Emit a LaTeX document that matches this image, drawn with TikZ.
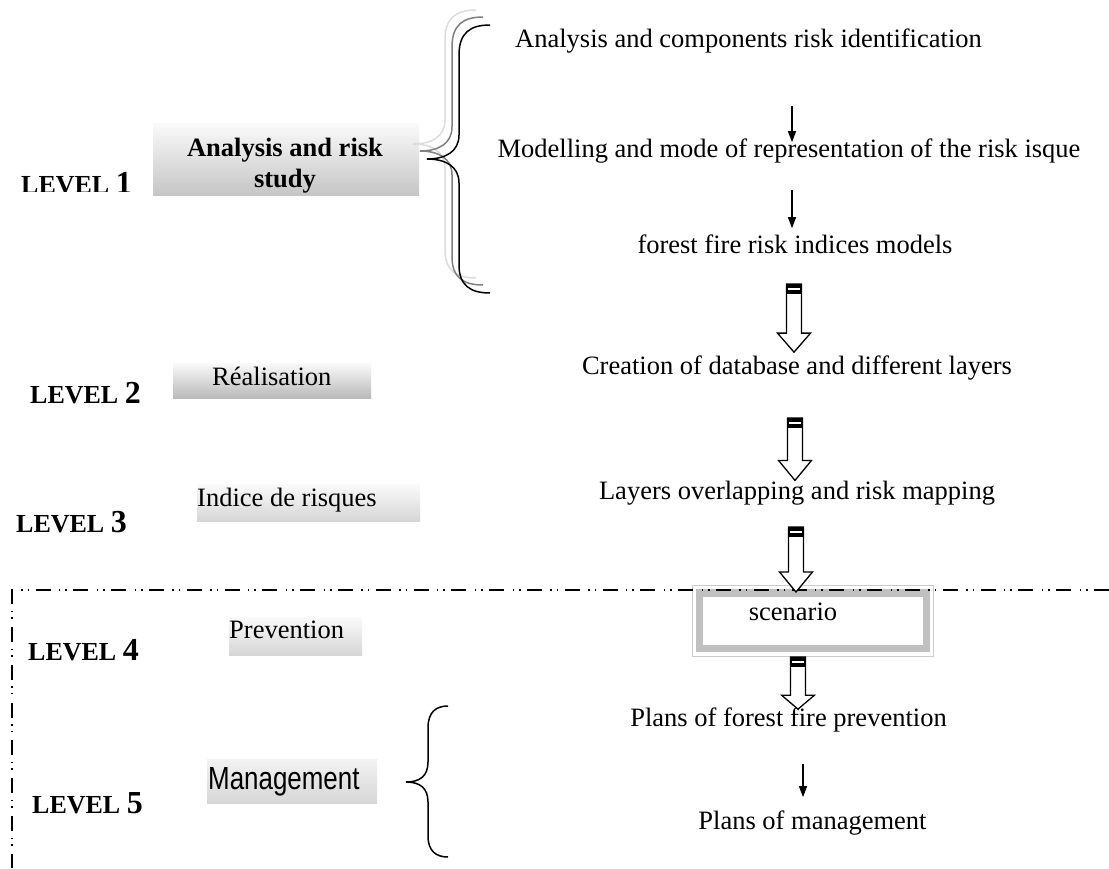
\documentclass[tikz,border=0pt]{standalone}
\usepackage{fontspec}
\setmainfont{Liberation Serif}
\newfontfamily\mgmtfont{Liberation Sans}[FakeStretch=0.81]
\usetikzlibrary{arrows.meta,calc}
\definecolor{ringgray}{HTML}{C0C0C0}
\definecolor{edgegray}{HTML}{CCCCCC}
\definecolor{lightbrace}{HTML}{DCDCDC}
\definecolor{midbrace}{HTML}{808080}
\newcommand\harrow[3]{%
 \draw[hollow] let \p1=(#1), \p2=(#2) in
  ({\x1-7.5pt},\y1) -- ({\x1-7.5pt},{\y2+#3}) -- ({\x1-16.5pt},{\y2+#3}) -- (\x1,\y2) -- ({\x1+16.5pt},{\y2+#3}) -- ({\x1+7.5pt},{\y2+#3}) -- ({\x1+7.5pt},\y1) -- cycle;
 \fill let \p1=(#1) in ({\x1-8.15pt},{\y1+0.5pt}) rectangle ({\x1+8.15pt},{\y1-10pt});
 \fill[white] let \p1=(#1) in ({\x1-6pt},{\y1-4pt}) rectangle ({\x1+6pt},{\y1-5.6pt});
}
\begin{document}
\begin{tikzpicture}[x=1pt,y=-1pt,
  txt/.style={inner sep=0pt, anchor=base, font=\fontsize{26.5}{30}\selectfont},
  lvl/.style={inner sep=0pt, anchor=base west, font=\fontsize{26}{30}\selectfont\bfseries},
  gbox/.style={inner sep=0pt, anchor=north west, top color=gray!4, bottom color=gray!45, draw=none},
  thinarrow/.style={line width=1.3pt, -{Triangle[length=11pt,width=8pt]}},
  hollow/.style={draw=black, fill=white, line width=1.3pt, line join=miter},
  ddline/.style={line width=1.6pt, dash pattern=on 15pt off 6.5pt on 1.5pt off 5pt on 1.5pt off 8.3pt},
  bracepath/.style={line width=1.5pt}]
\useasboundingbox (0,0) rectangle (1109,868);
\fill[white] (0,0) rectangle (1109,868);

% left boxes
\node[gbox, minimum width=266pt, minimum height=72pt] (b1) at (153,123) {};
\node[gbox, bottom color=gray!55, minimum width=198pt, minimum height=35pt] (b2) at (173,363) {};
\node[gbox, bottom color=gray!32, minimum width=223pt, minimum height=37pt] (b3) at (197,484) {};
\node[gbox, bottom color=gray!32, minimum width=133pt, minimum height=38pt] (b4) at (229,617) {};
\node[gbox, top color=gray!10, bottom color=gray!32, minimum width=170pt, minimum height=44pt] (b5) at (207,759) {};

\begin{scope}
\clip (153,123) rectangle (419,195);
\node[txt, font=\fontsize{26.5}{30}\selectfont\bfseries] (b1a) at (285,156) {Analysis and risk};
\node[txt, font=\fontsize{26.5}{30}\selectfont\bfseries] (b1b) at (285,187) {study};
\end{scope}
\node[txt, anchor=base west] (b2t) at (212,385) {Réalisation};
\node[txt, anchor=base west] (b3t) at (197,506) {Indice de risques};
\node[txt, anchor=base west] (b4t) at (229,638) {Prevention};
\node[inner sep=0pt, anchor=base west, font=\mgmtfont\fontsize{32}{34}\selectfont] (b5t) at (208,789) {Management};

% level labels
\begin{scope}
\clip (0,0) rectangle (200,191);
\node[lvl] (l1) at (21,193) {LEVEL {\fontsize{32}{34}\selectfont 1}};
\end{scope}
\node[lvl] (l2) at (30,403) {LEVEL {\fontsize{32}{34}\selectfont 2}};
\node[lvl] (l3) at (16,532) {LEVEL {\fontsize{32}{34}\selectfont 3}};
\node[lvl] (l4) at (28,660) {LEVEL {\fontsize{32}{34}\selectfont 4}};
\node[lvl] (l5) at (32,813) {LEVEL {\fontsize{32}{34}\selectfont 5}};

% big triple brace
\foreach \dx/\dy/\c in {-14/-15/lightbrace, -7/-8/midbrace, 0/0/black}{
 \begin{scope}[shift={(\dx,\dy)}]
  \draw[bracepath, \c] (490,25) .. controls (470,25) and (459,33) .. (459,55) -- (459,135)
     .. controls (459,152) and (445,159) .. (427,159)
     .. controls (445,159) and (459,166) .. (459,183) -- (459,265)
     .. controls (459,285) and (470,293) .. (490,293);
 \end{scope}
}
% bottom brace
\draw[bracepath] (448,706) .. controls (436,706) and (428,712) .. (428,728) -- (428,762)
   .. controls (428,776) and (420,782) .. (406,782)
   .. controls (420,782) and (428,788) .. (428,802) -- (428,836)
   .. controls (428,851) and (436,857) .. (448,857);

% right column texts
\node[txt, anchor=base west] (t1) at (515,47) {Analysis and components risk identification};
\node[txt] (t2) at (789,157) {Modelling and mode of representation of the risk isque};
\node[txt] (t3) at (795,253) {forest fire risk indices models};
\node[txt] (t4) at (797,374) {Creation of database and different layers};
\node[txt] (t5) at (797,499) {Layers overlapping and risk mapping};

% scenario box
\node[draw=edgegray, line width=1pt, inner sep=0pt, minimum width=241pt, minimum height=71pt, anchor=north west] (sc) at (692,585) {};
\draw[ringgray, line width=7.5pt] (699.25,592.75) rectangle (926.25,648.25);
\node[txt] (t6) at (793,620) {scenario};

\node[txt] (t7) at (788.5,726) {Plans of forest fire prevention};
\node[txt] (t8) at (812.5,829) {Plans of management};

% dash-dot frame
\draw[ddline] (1109,590) -- (12,590) -- (12,868);

% thin arrows
\coordinate (ta1) at (792,106);
\coordinate (ta2) at (792,190);
\coordinate (ta3) at (803,764);
\draw[thinarrow] (ta1) -- ($(t2.north -| ta1)+(0,4)$);
\draw[thinarrow] (ta2) -- ($(t3.north -| ta2)+(0,-6)$);
\draw[thinarrow] (ta3) -- ($(t8.north -| ta3)+(0,-13)$);

% hollow arrows
\coordinate (ha1) at (794,284);
\coordinate (ha2) at (795,418);
\coordinate (ha3) at (796,527);
\coordinate (ha4) at (798,657);
\harrow{ha1}{$(t4.north -| ha1)+(0,-3)$}{19pt}
\harrow{ha2}{t5.north -| ha2}{20pt}
\harrow{ha3}{$(sc.north -| ha3)+(0,7)$}{20pt}
\harrow{ha4}{$(t7.north -| ha4)+(0,2)$}{14pt}
\end{tikzpicture}
\end{document}
